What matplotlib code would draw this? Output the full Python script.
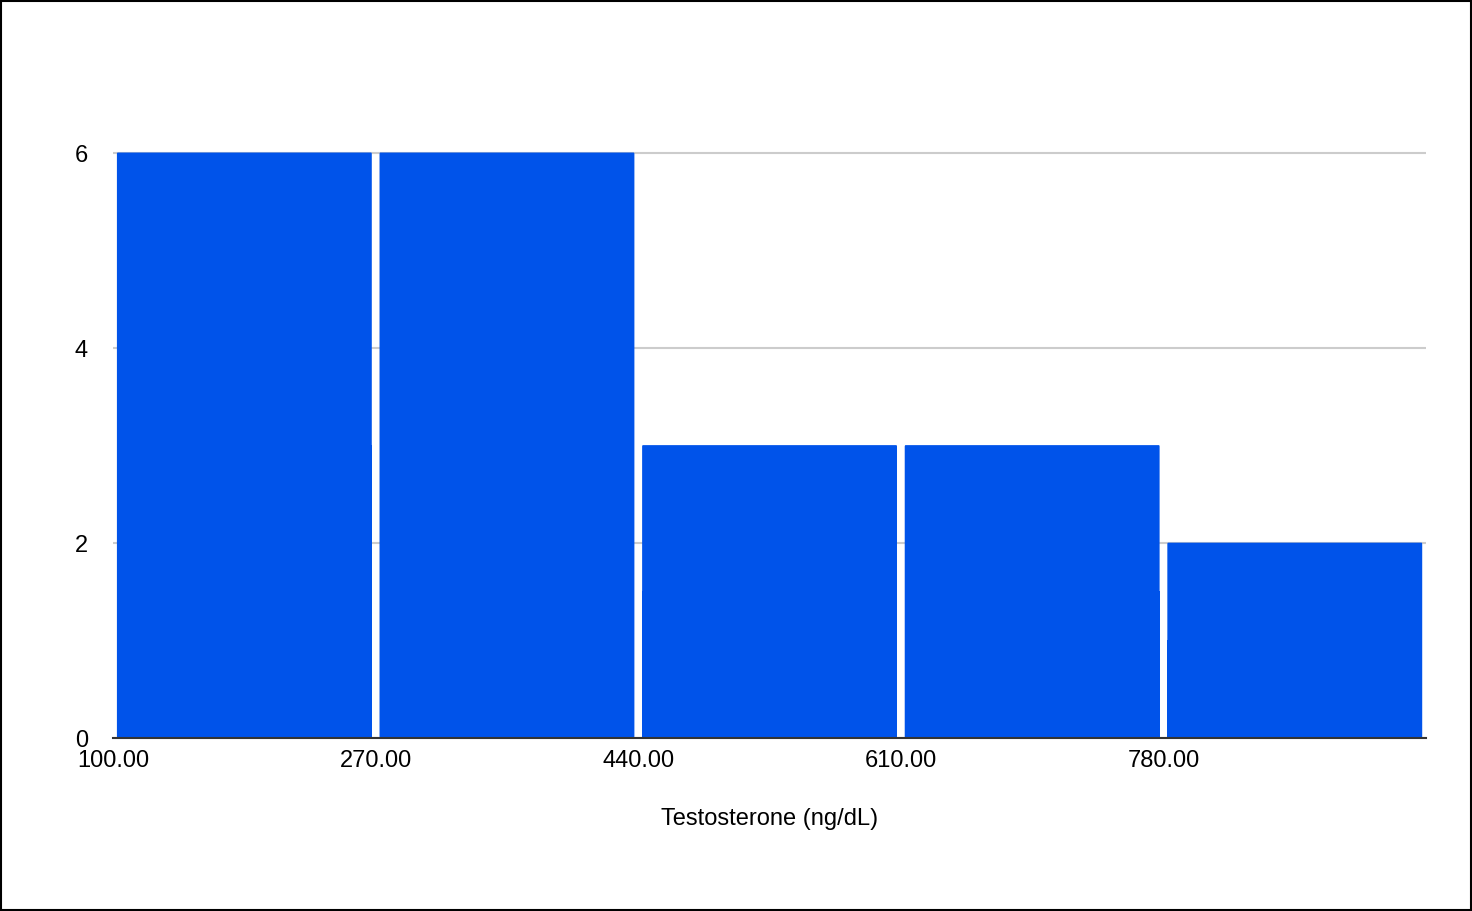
import matplotlib
matplotlib.use("Agg")
import matplotlib.pyplot as plt
from matplotlib.patches import FancyBboxPatch, Rectangle

plt.rcParams['font.family'] = ['Liberation Sans', 'DejaVu Sans']

bin_edges = [100, 270, 440, 610, 780, 950]
counts = [6, 6, 3, 3, 2]
tick_labels = ["100.00", "270.00", "440.00", "610.00", "780.00"]
yticks = [0, 2, 4, 6]

fig = plt.figure(figsize=(14.72, 9.12), dpi=100)
ax = fig.add_axes([0.0768, 0.19, 0.892, 0.77])
ax.set_xlim(100, 950)
ax.set_ylim(0, 7.2)
color = "#0053EA"
for i, c in enumerate(counts):
    x0 = bin_edges[i] + 2.5
    w = bin_edges[i + 1] - bin_edges[i] - 5
    ax.add_patch(FancyBboxPatch((x0, 0), w, c, boxstyle="round,pad=0,rounding_size=0.5",
                                mutation_aspect=0.03, facecolor=color, edgecolor="none", zorder=2))
    ax.add_patch(Rectangle((x0, 0), w, c / 2, facecolor=color, edgecolor="none", zorder=2))

ax.set_yticks(yticks)
ax.set_yticklabels([str(v) for v in yticks], fontsize=17)
ax.set_xticks(bin_edges[:-1])
ax.set_xticklabels(tick_labels, fontsize=17)
ax.grid(axis='y', color='#cccccc', linewidth=1.5, zorder=0)
ax.tick_params(length=0, pad=8)
ax.tick_params(axis='y', pad=18)
for s in ['top', 'right', 'left']:
    ax.spines[s].set_visible(False)
ax.spines['bottom'].set_color('#333333')
ax.spines['bottom'].set_linewidth(1.5)
ax.spines['bottom'].set_zorder(3)
ax.set_xlabel("Testosterone (ng/dL)", fontsize=17, labelpad=26)

fig.add_artist(Rectangle((0.001, 0.001), 0.998, 0.997, transform=fig.transFigure,
                         fill=False, edgecolor='black', linewidth=1.5))
fig.savefig("out.png", dpi=100)
